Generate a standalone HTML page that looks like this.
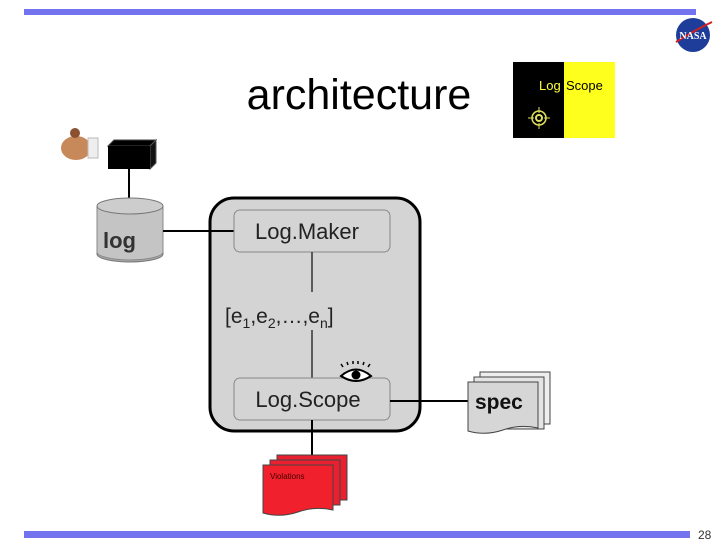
<!DOCTYPE html>
<html><head><style>
html,body{margin:0;padding:0;background:#fff;}
svg{display:block;font-family:"Liberation Sans",Arial,sans-serif;}
</style></head><body>
<svg width="720" height="540" viewBox="0 0 720 540" xmlns="http://www.w3.org/2000/svg">
<rect x="24" y="9" width="672" height="6" fill="#7373f0"/>
<rect x="24" y="531" width="666" height="7" fill="#7373f0"/>
<text x="698" y="539" font-size="12" fill="#333">28</text>
<!-- NASA -->
<circle cx="693" cy="35" r="17" fill="#1e3c9a"/>
<path d="M676 42 Q695 30 712 22" stroke="#d02020" stroke-width="2" fill="none"/>
<text x="693" y="39" font-size="10" font-weight="bold" fill="#fff" text-anchor="middle" font-family="Liberation Serif,serif">NASA</text>
<text x="359" y="109" font-size="43" text-anchor="middle" fill="#000">architecture</text>
<!-- LogScope logo -->
<rect x="513" y="62" width="51" height="76" fill="#000"/>
<rect x="564" y="62" width="51" height="76" fill="#ffff1e"/>
<text x="539" y="90" font-size="13" fill="#ffff40">Log</text>
<text x="566" y="90" font-size="13" fill="#000">Scope</text>
<circle cx="539" cy="118" r="7" fill="none" stroke="#e0e060" stroke-width="1.5"/>
<circle cx="539" cy="118" r="3" fill="none" stroke="#e0e060" stroke-width="2"/>
<path d="M539 107v6M539 123v6M528 118h6M544 118h6" stroke="#e0e060"/>
<!-- person -->
<ellipse cx="76" cy="148" rx="15" ry="12" fill="#c8895a"/>
<circle cx="75" cy="133" r="5" fill="#8a5030"/>
<rect x="88" y="138" width="10" height="20" fill="#eee" stroke="#bbb"/>
<!-- black box -->
<polygon points="108,146 114,140 156,140 150,146" fill="#000" stroke="#444"/>
<polygon points="150,146 156,140 156,163 150,169" fill="#111" stroke="#555"/>
<rect x="108" y="146" width="42" height="23" fill="#000"/>
<line x1="129" y1="169" x2="129" y2="198" stroke="#000" stroke-width="2"/>
<!-- cylinder -->
<path d="M97 206 V254 A33 8 0 0 0 163 254 V206" fill="#aaa" stroke="#777"/>
<path d="M97 206 V252 A33 8 0 0 0 163 252 V206" fill="#c4c4c4" stroke="#888"/>
<ellipse cx="130" cy="206" rx="33" ry="8" fill="#cdcdcd" stroke="#777"/>
<text x="103" y="248" font-size="22" font-weight="bold" fill="#333">log</text>
<!-- main container -->
<rect x="210" y="198" width="210" height="233" rx="24" fill="#d4d4d4" stroke="#000" stroke-width="3"/>
<line x1="163" y1="231" x2="234" y2="231" stroke="#000" stroke-width="2"/>
<rect x="234" y="210" width="156" height="42" rx="6" fill="#d4d4d4" stroke="#888"/>
<text x="307" y="239" font-size="22" fill="#222" text-anchor="middle">Log.Maker</text>
<line x1="312" y1="252" x2="312" y2="292" stroke="#333" stroke-width="1.5"/>
<text x="225" y="323" font-size="21" fill="#222">[e<tspan font-size="14" dy="5">1</tspan><tspan dy="-5">,e</tspan><tspan font-size="14" dy="5">2</tspan><tspan dy="-5">,…,e</tspan><tspan font-size="14" dy="5">n</tspan><tspan dy="-5">]</tspan></text>
<line x1="312" y1="330" x2="312" y2="378" stroke="#333" stroke-width="1.5"/>
<rect x="234" y="378" width="156" height="42" rx="6" fill="#d4d4d4" stroke="#888"/>
<text x="308" y="407" font-size="22" fill="#222" text-anchor="middle">Log.Scope</text>
<!-- eye -->
<path d="M341 376 Q356 363 371 376 Q356 386 341 376Z" fill="#fff" stroke="#000" stroke-width="2"/>
<circle cx="356" cy="375" r="4.5" fill="#000"/>
<path d="M343 367l-2-3M348 365l-1-3M353 364v-3M358 364v-3M363 365l1-3M368 367l2-3" stroke="#000" stroke-width="1.5"/>
<line x1="390" y1="401" x2="470" y2="401" stroke="#000" stroke-width="2"/>
<line x1="312" y1="420" x2="312" y2="455" stroke="#000" stroke-width="2"/>
<!-- spec -->
<rect x="480" y="372" width="70" height="52" fill="#eee" stroke="#444"/>
<rect x="474" y="377" width="70" height="52" fill="#e4e4e4" stroke="#444"/>
<path d="M468 382 H538 V428 Q520 424 503 430 Q485 436 468 431 Z" fill="#d6d6d6" stroke="#444"/>
<text x="475" y="409" font-size="21" font-weight="bold" fill="#111">spec</text>
<!-- violations -->
<rect x="277" y="455" width="70" height="45" fill="#e82030" stroke="#444"/>
<rect x="270" y="460" width="70" height="45" fill="#e82030" stroke="#444"/>
<path d="M263 465 H333 V510 Q315 506 298 512 Q280 518 263 513 Z" fill="#f0202c" stroke="#444"/>
<text x="270" y="479" font-size="8" fill="#400">Violations</text>
</svg>
</body></html>
